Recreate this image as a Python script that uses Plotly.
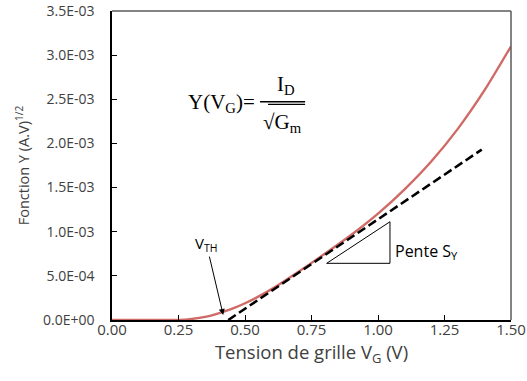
import plotly.graph_objects as go

# ---- data ----
vg = [0.0, 0.1, 0.2, 0.25, 0.3, 0.35, 0.4, 0.45, 0.5, 0.55, 0.6, 0.7, 0.8,
      0.9, 1.0, 1.1, 1.2, 1.3, 1.4, 1.5]
y_func = [0.0, 0.0, 0.0, 0.0, 0.000012, 0.000035, 0.000075, 0.000125,
          0.00019, 0.000265, 0.00035, 0.000545, 0.00075, 0.000965, 0.001205,
          0.00148, 0.001795, 0.002165, 0.0026, 0.0031]

tangent_x = [0.437, 1.39]
tangent_y = [0.0, 0.00193]

tri_x = [0.807, 1.045, 1.045, 0.807]
tri_y = [0.000642, 0.000642, 0.001113, 0.000642]

x_ticks = [0.0, 0.25, 0.5, 0.75, 1.0, 1.25, 1.5]
x_tick_labels = ["0.00", "0.25", "0.50", "0.75", "1.00", "1.25", "1.50"]
y_ticks = [0.0, 0.0005, 0.001, 0.0015, 0.002, 0.0025, 0.003, 0.0035]
y_tick_labels = ["0.0E+00", "5.0E-04", "1.0E-03", "1.5E-03", "2.0E-03",
                 "2.5E-03", "3.0E-03", "3.5E-03"]

vth_tip = (0.418, 0.000057)
vth_label = (0.355, 0.00086)

TXT = "#404040"
SANS = "'Open Sans', sans-serif"
SERIF = "'Liberation Serif', 'DejaVu Serif', serif"

fig = go.Figure()
fig.add_trace(go.Scatter(x=vg, y=y_func, mode="lines",
                         line=dict(color="#d06a66", width=2.4, shape="spline",
                                   smoothing=0.6),
                         showlegend=False, hoverinfo="skip"))
fig.add_trace(go.Scatter(x=tangent_x, y=tangent_y, mode="lines",
                         line=dict(color="black", width=2.6, dash="9px,4px"),
                         showlegend=False, hoverinfo="skip"))
fig.add_trace(go.Scatter(x=tri_x, y=tri_y, mode="lines",
                         line=dict(color="black", width=1),
                         showlegend=False, hoverinfo="skip"))

annotations = [
    dict(x=vth_tip[0], y=vth_tip[1], ax=vth_label[0], ay=vth_label[1],
         axref="x", ayref="y", xref="x", yref="y",
         text="V<sub>TH</sub>", showarrow=True, arrowhead=2, arrowsize=1.2,
         arrowwidth=1, arrowcolor="black",
         font=dict(family=SANS, size=15, color="black")),
    dict(x=1.056, y=0.00078, xref="x", yref="y", xanchor="left",
         yanchor="middle", text="Pente S<sub>Y</sub>", showarrow=False,
         font=dict(family=SANS, size=16, color="black")),
    dict(x=0.364, y=0.703, xref="paper", yref="paper", xanchor="right",
         yanchor="middle", text="Y(V<sub>G</sub>)=", showarrow=False,
         font=dict(family=SERIF, size=21, color="black")),
    dict(x=0.435, y=0.762, xref="paper", yref="paper", xanchor="center",
         yanchor="middle", text="I<sub>D</sub>", showarrow=False,
         font=dict(family=SERIF, size=21, color="black")),
    dict(x=0.427, y=0.638, xref="paper", yref="paper", xanchor="center",
         yanchor="middle", text="√G<sub>m</sub>", showarrow=False,
         font=dict(family=SERIF, size=21, color="black")),
]

shapes = [
    # fraction bar and sqrt overline
    dict(type="line", xref="paper", yref="paper", x0=0.371, x1=0.484,
         y0=0.7065, y1=0.7065, line=dict(color="black", width=1.5)),
    dict(type="line", xref="paper", yref="paper", x0=0.391, x1=0.484,
         y0=0.698, y1=0.698, line=dict(color="black", width=1.2)),
    # top and right frame in grey
    dict(type="line", xref="paper", yref="paper", x0=0, x1=1, y0=1, y1=1,
         line=dict(color="#5a5a5a", width=1.5)),
    dict(type="line", xref="paper", yref="paper", x0=1, x1=1, y0=0, y1=1,
         line=dict(color="#5a5a5a", width=1.5)),
]

fig.update_layout(
    width=527, height=381,
    margin=dict(l=112, r=16, t=11, b=61, autoexpand=False),
    paper_bgcolor="white", plot_bgcolor="white",
    annotations=annotations, shapes=shapes,
    xaxis=dict(range=[0, 1.5], tickvals=x_ticks, ticktext=x_tick_labels,
               ticks="inside", ticklen=5, tickcolor="black", tickwidth=1,
               showline=True, linecolor="black", linewidth=1.5,
               showgrid=False, zeroline=False, ticklabelstandoff=-5,
               ticklabeloverflow="allow", automargin=False,
               tickfont=dict(family=SANS, size=15, color=TXT),
               title=dict(text="Tension de grille V<sub>G</sub> (V)",
                          font=dict(family=SANS, size=18.5, color=TXT),
                          standoff=0)),
    yaxis=dict(range=[0, 0.0035], tickvals=y_ticks, ticktext=y_tick_labels,
               ticks="inside", ticklen=5, tickcolor="black", tickwidth=1,
               showline=True, linecolor="black", linewidth=1.5,
               showgrid=False, zeroline=False, ticklabelstandoff=13,
               automargin=False,
               tickfont=dict(family=SANS, size=14, color=TXT),
               title=dict(text="Fonction Y (A.V)<sup>1/2</sup>",
                          font=dict(family=SANS, size=14.5, color=TXT),
                          standoff=10)),
)

fig.write_html("out.html", config={"displayModeBar": False},
               post_script="document.body.style.margin='0';")
